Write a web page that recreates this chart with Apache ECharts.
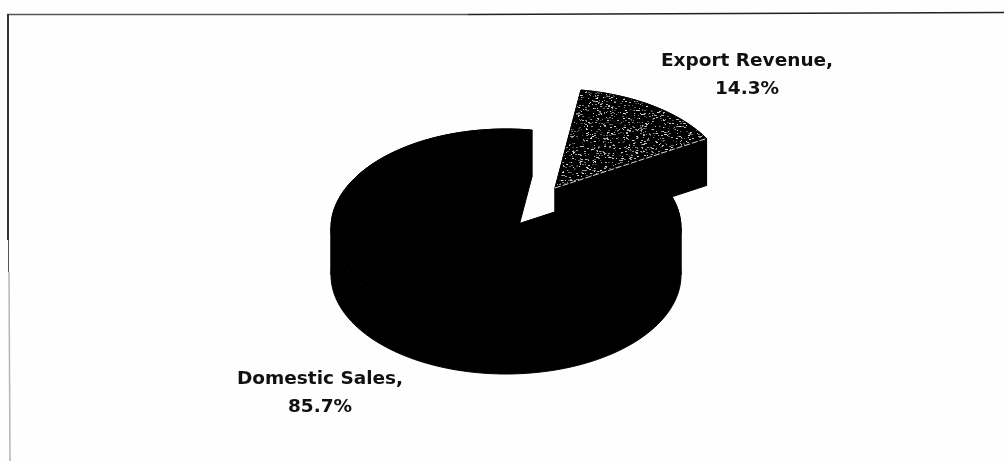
<!DOCTYPE html>
<html>
<head>
<meta charset="utf-8">
<style>html,body{margin:0;padding:0;background:#fefefe}#chart{width:1004px;height:461px}</style>
<script src="https://cdn.jsdelivr.net/npm/echarts@6/dist/echarts.min.js"></script>
</head>
<body>
<div id="chart"></div>
<script>
// Revenue split
const categories = ['Domestic Sales', 'Export Revenue'];
const shares = [85.7, 14.3];

// Extruded pie projection
const pieCenter = [506, 228];
const radiusX = 175;
const radiusY = 99;
const depth = 47;
const firstAngle = 60;
const arcStep = 1;
const explode = { 'Export Revenue': [49, -40] };
const labelAnchor = { 'Domestic Sales': [320, 393], 'Export Revenue': [747, 75] };

// Speckled fill for the exploded slice
function speckle() {
  const size = 128;
  const c = document.createElement('canvas');
  c.width = c.height = size;
  const g = c.getContext('2d');
  g.fillStyle = '#000';
  g.fillRect(0, 0, size, size);
  let s = 20240611;
  const next = () => {
    s = Math.imul(s ^ (s >>> 15), 2246822519) + 0x9e3779b9 | 0;
    s = Math.imul(s ^ (s >>> 13), 3266489917);
    return (s ^ (s >>> 16)) >>> 0;
  };
  for (let i = 0; i < 2000; i++) {
    const x = next() % size;
    const y = next() % size;
    const v = 60 + next() % 170;
    g.fillStyle = 'rgb(' + v + ',' + v + ',' + v + ')';
    g.fillRect(x, y, 1 + next() % 2, 1);
  }
  return c;
}
const speckleTile = speckle();

const total = shares.reduce((a, b) => a + b, 0);

function rim(angle, off, drop) {
  const t = angle * Math.PI / 180;
  return [
    pieCenter[0] + off[0] + radiusX * Math.sin(t),
    pieCenter[1] + off[1] - radiusY * Math.cos(t) + drop
  ];
}

// Angles from a to b, always including b
function sweep(a, b) {
  const out = [];
  for (let x = a; x < b; x += arcStep) out.push(x);
  out.push(b);
  return out;
}

function renderSlice(params, api) {
  const idx = params.dataIndex;
  const name = categories[idx];
  const before = shares.slice(0, idx).reduce((a, b) => a + b, 0);
  const a0 = echarts.number.linearMap(before, [0, total], [firstAngle, firstAngle + 360]);
  const a1 = echarts.number.linearMap(before + api.value(0), [0, total], [firstAngle, firstAngle + 360]);
  const off = explode[name] || [0, 0];
  const apex = [pieCenter[0] + off[0], pieCenter[1] + off[1]];
  const apexLow = [apex[0], apex[1] + depth];

  const black = { fill: '#000', stroke: '#000', lineWidth: 1 };
  const poly = (points, style) => ({ type: 'polygon', shape: { points }, style });
  const children = [];

  // outer wall, split where the ellipse has a vertical tangent
  const breaks = [a0, 90, 270, 450, a1].filter(x => x >= a0 && x <= a1);
  for (let i = 0; i + 1 < breaks.length; i++) {
    if (breaks[i + 1] <= breaks[i]) continue;
    const angles = sweep(breaks[i], breaks[i + 1]);
    const top = angles.map(a => rim(a, off, 0));
    const low = angles.map(a => rim(a, off, depth)).reverse();
    children.push(poly(top.concat(low), black));
  }
  // cut walls
  children.push(poly([apex, rim(a0, off, 0), rim(a0, off, depth), apexLow], black));
  children.push(poly([apex, rim(a1, off, 0), rim(a1, off, depth), apexLow], black));

  const isExploded = !!explode[name];
  const face = [apex].concat(sweep(a0, a1).map(a => rim(a, off, 0)));
  children.push(poly(face, isExploded
    ? { fill: { image: speckleTile, repeat: 'repeat' }, stroke: '#000', lineWidth: 1 }
    : black));
  if (isExploded) {
    // light edge where the top face meets the front cut wall
    const end = rim(a1, off, 0);
    children.push({
      type: 'line',
      shape: { x1: apex[0], y1: apex[1], x2: end[0], y2: end[1] },
      style: { stroke: '#d8d8d8', lineWidth: 1, lineDash: [6, 2] }
    });
  }
  const anchor = labelAnchor[name];
  children.push({
    type: 'text',
    style: {
      x: anchor[0], y: anchor[1],
      text: name + ',\n' + api.value(0).toFixed(1) + '%',
      fill: '#111',
      font: 'bold 18.5px "DejaVu Sans"',
      lineHeight: 28,
      align: 'center',
      verticalAlign: 'middle'
    }
  });
  return { type: 'group', children };
}

const chart = echarts.init(document.getElementById('chart'), null, { renderer: 'canvas' });
chart.setOption({
  animation: false,
  backgroundColor: '#fefefe',
  graphic: [
    { type: 'line', shape: { x1: 7, y1: 14.5, x2: 468, y2: 14.5 }, style: { stroke: '#555', lineWidth: 1.5 } },
    { type: 'line', shape: { x1: 468, y1: 14.5, x2: 1004, y2: 12.5 }, style: { stroke: '#222', lineWidth: 1.5 } },
    { type: 'line', shape: { x1: 8, y1: 14, x2: 8, y2: 240 }, style: { stroke: '#333', lineWidth: 2 } },
    { type: 'line', shape: { x1: 8.5, y1: 240, x2: 8.5, y2: 272 }, style: { stroke: '#555', lineWidth: 1 } },
    { type: 'line', shape: { x1: 9, y1: 272, x2: 10, y2: 461 }, style: { stroke: '#b5b5b5', lineWidth: 1.5 } }
  ],
  series: [{
    type: 'custom',
    coordinateSystem: 'none',
    renderItem: renderSlice,
    data: shares.map((v, i) => ({ name: categories[i], value: [v] }))
  }]
});
</script>
</body>
</html>
